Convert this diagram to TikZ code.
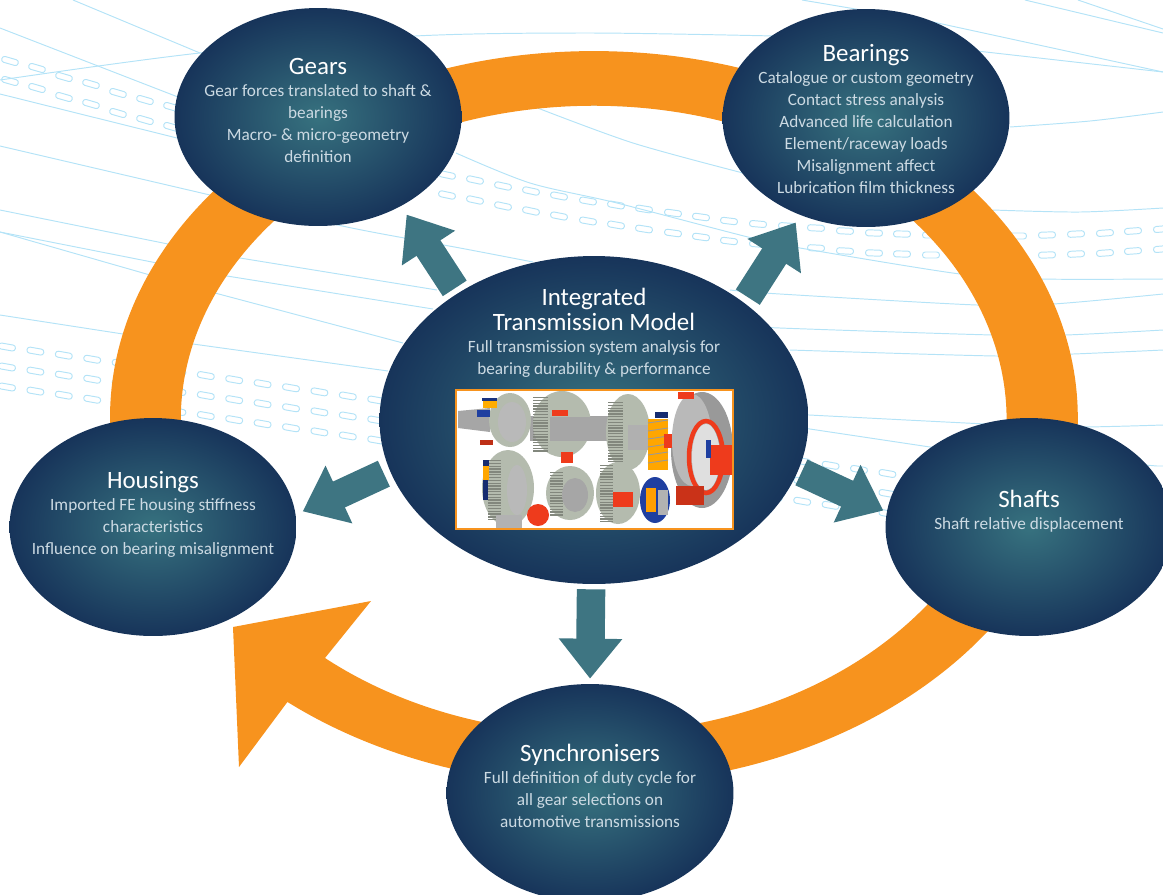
\documentclass[tikz,border=0pt]{standalone}
\usepackage{fontspec}
\usepackage{tikz}
\usetikzlibrary{arrows.meta,shapes.geometric}
\setmainfont{Carlito}
\definecolor{ringorange}{HTML}{F7931E}
\definecolor{arrowteal}{HTML}{3E7582}
\definecolor{skyline}{HTML}{B4E3F7}
\definecolor{bubbleglow}{HTML}{37727F}
\definecolor{bubbledark}{HTML}{17345A}
\definecolor{bubbletext}{HTML}{CCDAE3}
\definecolor{gearblue}{HTML}{1F3FA0}
\definecolor{gearred}{HTML}{EE3B1C}
\definecolor{geargrey}{HTML}{B4BBAE}
\newcommand{\bubbletitle}[1]{{\color{white}\fontsize{14.2}{14}\selectfont #1}}
\tikzset{
  bubble/.style={ellipse,inner sep=0pt,inner color=bubbleglow,outer color=bubbledark,
    minimum width=5.74cm,minimum height=4.36cm},
  bubbletxt/.style={text=bubbletext,align=center,inner sep=0pt,
    font=\fontsize{9.8}{12.5}\selectfont},
  flowarrow/.style={draw=arrowteal,line width=0.57cm,-{Triangle[length=0.8cm,width=1.22cm]}},
  skycurve/.style={draw=skyline,line width=0.55pt},
  pill/.style={draw=skyline,line width=0.55pt,rounded corners=0.055cm,inner sep=0pt,
    minimum width=0.34cm,minimum height=0.12cm},
  gearbody/.style={fill=geargrey},
  geartooth/.style={draw=geargrey!72!black,dash pattern=on 0.8pt off 0.8pt},
}
\begin{document}
\begin{tikzpicture}[x=0.02cm,y=-0.02cm]
\clip (0,0) rectangle (1163,894);

% thin curves behind everything
\draw[skycurve] plot[smooth] coordinates {(0,80) (200,53) (415,36) (590,33) (775,36)};
\draw[skycurve] (73,0) -- (200,53);
\draw[skycurve] (0,28) -- (178,97);
\draw[skycurve] (0,94) -- (177,138);
\draw[skycurve] plot[smooth] coordinates {(0,146) (210,195) (347,227) (460,248) (533,262)};
\draw[skycurve] (0,210) -- (168,244) -- (240,258) -- (437,290);
\draw[skycurve] (0,232) -- (157,263) -- (227,276) -- (433,309);
\draw[skycurve] (0,232) -- (150,275) -- (215,293) -- (403,343);
\draw[skycurve] (0,315) -- (123,334) -- (193,344) -- (388,371);
\draw[skycurve] plot[smooth] coordinates {(456,153) (530,183) (617,203) (748,237) (800,248) (960,274) (1040,279) (1163,279)};
\draw[skycurve] plot[smooth] coordinates {(535,107) (633,143) (743,173)};
\draw[skycurve] plot[smooth] coordinates {(590,105) (660,107) (725,113)};
\draw[skycurve] (802,0) -- (933,22) -- (1163,72);
\draw[skycurve] (977,51) -- (1163,72);
\draw[skycurve] (1025,0) -- (1163,33);
\draw[skycurve] (1078,0) -- (1163,29);
\draw[skycurve] plot[smooth] coordinates {(1010,127) (1090,121) (1163,112)};
\draw[skycurve] plot[smooth] coordinates {(993,210) (1080,212) (1163,208)};
\draw[skycurve] plot[smooth] coordinates {(730,290) (780,294) (977,305) (1053,304) (1163,294)};
\draw[skycurve] plot[smooth] coordinates {(740,325) (780,328) (993,335) (1065,335) (1163,330)};
\draw[skycurve] plot[smooth] coordinates {(790,350) (997,356) (1073,354) (1163,350)};
\draw[skycurve] plot[smooth] coordinates {(790,414) (1007,425) (1080,427) (1163,425)};
\draw[skycurve] (790,426) -- (930,447) -- (1157,466) -- (1163,466);

% pill rows
\foreach \r in {0,20}
  \foreach \x/\y/\a in {10/61/-16,37/68/-16,64/77/-16,91/84/-16,118/93/-16,145/100/-16,172/107/-16,
    447/175/-12,475/180/-12,503/186/-12,531/191/-12,559/196/-11,588/201/-10,616/205/-10,644/209/-9,
    673/213/-8,701/217/-8,729/221/-7,758/224/-5,787/226/-4,816/228/-3,845/231/-3,874/233/-2,902/234/-1,
    931/235/0,960/236/0,989/236/0,1018/236/0,1047/235/2,1076/234/3,1105/233/4,1133/231/4,1162/229/5}
    \node[pill,rotate=\a] (pilltop\r-\x) at (\x,\y+\r) {};
\foreach \r in {0,20,40}
  \foreach \i in {0,...,31}
    \node[pill,rotate=-10] (pillmid\r-\i) at (7+28.4*\i,347+4.08*\i+\r) {};

% the big orange ring with its arrow head
\fill[ringorange] (325,658) arc[start angle=229.4,end angle=540,x radius=8.26cm,y radius=6.28cm]
  -- (181,445) -- (110,445) -- (110,418)
  arc[start angle=180,end angle=-129.3,x radius=9.68cm,y radius=7.34cm]
  -- (239,767) -- (233,627) -- (371,601) -- cycle;

\node[bubble] (gears) at (318,117) {};
\node[bubble] (bearings) at (866,118) {};
\node[bubble] (housings) at (153,527) {};
\node[bubble] (shafts) at (1029,527) {};
\node[bubble] (synchronisers) at (590,793) {};
\node[bubble,minimum width=8.58cm,minimum height=6.56cm] (model) at (594,420) {};

\node[bubbletxt] (gearstext) at (318,110.5) {\bubbletitle{Gears}\\
  Gear forces translated to shaft \&\\bearings\\Macro- \& micro-geometry\\definition};
\node[bubbletxt] (bearingstext) at (866,119) {\bubbletitle{Bearings}\\
  Catalogue or custom geometry\\Contact stress analysis\\Advanced life calculation\\
  Element/raceway loads\\Misalignment affect\\Lubrication film thickness};
\node[bubbletxt] (housingstext) at (153,514) {\bubbletitle{Housings}\\
  Imported FE housing stiffness\\characteristics\\Influence on bearing misalignment};
\node[bubbletxt] (shaftstext) at (1029,511) {\bubbletitle{Shafts}\\
  Shaft relative displacement};
\node[bubbletxt] (synchroniserstext) at (590,786) {\bubbletitle{Synchronisers}\\
  Full definition of duty cycle for\\all gear selections on\\automotive transmissions};
\node[bubbletxt] (modeltext) at (594,333)
  {\bubbletitle{Integrated}\\[2pt]\bubbletitle{Transmission Model}\\
  Full transmission system analysis for\\bearing durability \& performance};

% teal arrows out of the model
\draw[flowarrow,shorten <=0.11cm,shorten >=0.2cm] (model.137.2) -- (gears.-47.8);
\draw[flowarrow,shorten <=0.13cm,shorten >=0.17cm] (model.38.4) -- (bearings.-124.6);
\draw[flowarrow,shorten <=0.13cm,shorten >=0.15cm] (model.194) -- (housings.5.7);
\draw[flowarrow,shorten <=0.07cm,shorten >=0.07cm] (model.-14.2) -- (shafts.174.1);
\draw[flowarrow,shorten <=0.1cm,shorten >=0.1cm] (model.-91) -- (synchronisers.90);

% the gearbox picture
\begin{scope}
\clip (456,390) rectangle (733,529);
\fill[white] (456,390) rectangle (733,529);
% upper shaft
\fill[gray!70] (458,411) -- (490,408) -- (490,432) -- (458,428) -- cycle;
\fill[gray!72] (530,416) rectangle (612,441);
\fill[gearbody] (510,420) ellipse (21 and 27);
\fill[gray!55] (512,422) ellipse (14 and 20);
\fill[gearbody] (562,424) ellipse (29 and 33);
\draw[geartooth,line width=0.3cm] (540,397) -- (540,452);
\fill[gray!70] (550,417) rectangle (608,441);
\fill[gearbody] (628,432) ellipse (22 and 38);
\draw[geartooth,line width=0.3cm] (615,402) -- (615,462);
\fill[gray!62] (628,425) rectangle (650,450);
% lower gears
\fill[gearbody] (508,488) ellipse (26 and 38);
\draw[geartooth,line width=0.26cm] (494,460) -- (494,520);
\fill[gray!55] (517,490) ellipse (10 and 25);
\fill[gearbody] (570,493) ellipse (24 and 27);
\draw[geartooth,line width=0.26cm] (556,472) -- (556,516);
\fill[gray!70] (575,495) ellipse (13 and 17);
\fill[gearbody] (618,493) ellipse (22 and 31);
\draw[geartooth,line width=0.26cm] (606,465) -- (606,522);
\fill[gray!60] (496,515) rectangle (522,529);
% big wheel on the right
\fill[gray!80] (702,450) ellipse (31 and 58);
\fill[gray!55] (692,440) ellipse (20 and 46);
\draw[gearred,line width=0.09cm] (706,457) ellipse (17 and 36);
\fill[gray!25] (706,457) ellipse (14 and 33);
\fill[gearred] (710,445) rectangle (733,475);
\fill[gearred] (678,392) rectangle (694,399);
\fill[gearred!85!black] (676,486) rectangle (704,505);
\fill[gearblue] (706,440) rectangle (711,458);
% orange bearings and blue cages
\fill[orange!70!yellow] (648,419) rectangle (668,470);
\foreach \y in {423,431,...,467}
  \draw[gray!80,line width=0.5pt] (648,\y) -- (668,\y-3);
\fill[gearblue!70!black] (655,412) rectangle (668,418);
\fill[gearblue] (655,500) ellipse (15 and 23);
\fill[orange!75!yellow] (646,488) rectangle (656,512);
\fill[gray!60] (658,490) rectangle (668,515);
\fill[gearblue!80!black] (482,398) rectangle (497,401);
\fill[orange!65!yellow] (483,401) rectangle (497,408);
\fill[gearblue] (477,410) rectangle (490,417);
\fill[gearblue!70!black] (483,460) rectangle (489,466);
\fill[orange!70!yellow] (483,466) rectangle (489,480);
\fill[gearblue!70!black] (483,480) rectangle (488,500);
% red pieces
\fill[gearred] (538,515) ellipse (11 and 11);
\fill[gearred] (613,492) rectangle (633,507);
\fill[gearred] (561,452) rectangle (573,463);
\fill[gearred] (552,410) rectangle (568,416);
\fill[gearred!80!black] (480,440) rectangle (493,445);
\fill[gearred] (664,434) rectangle (672,448);
\end{scope}
\draw[ringorange,line width=1.1pt] (456,390) rectangle (733,529);
\end{tikzpicture}
\end{document}
